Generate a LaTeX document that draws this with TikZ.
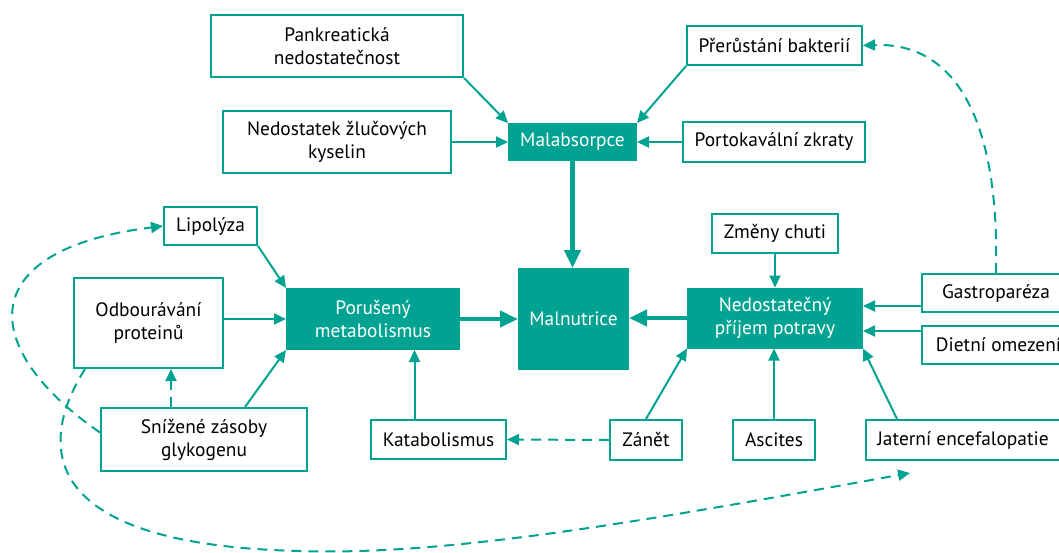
\documentclass[tikz,border=0pt]{standalone}
\usepackage{fontspec}
\setmainfont{PT Sans}
\usepackage{tikz}
\usetikzlibrary{arrows.meta}
\definecolor{mteal}{RGB}{0,163,145}

\begin{document}
\begin{tikzpicture}[x=0.5pt, y=-0.5pt,
  box/.style={
    rectangle, draw=mteal, line width=1pt, fill=white,
    align=center, inner sep=0pt,
    font=\fontsize{9.7}{11.5}\selectfont
  },
  hub/.style={box, fill=mteal, text=white},
  arr/.style={-{Triangle[length=6pt,width=5.5pt]}, line width=1pt, draw=mteal},
  harr/.style={-{Triangle[length=9pt,width=8pt]}, line width=2.2pt, draw=mteal},
  darr/.style={arr, dash pattern=on 5pt off 3.5pt}
]
  \useasboundingbox (0,0) rectangle (1059,552);

  \node[box, minimum width=126pt, minimum height=31pt] (pank) at (337,46) {Pankreatická\\nedostatečnost};
  \node[box, minimum width=114pt, minimum height=31pt] (zluc) at (337,142) {Nedostatek žlučových\\kyselin};
  \node[hub, minimum width=63.5pt, minimum height=18pt] (malab) at (572.5,142) {Malabsorpce};
  \node[box, minimum width=87.5pt, minimum height=19.5pt] (bakt) at (774.5,45.5) {Přerůstání bakterií};
  \node[box, minimum width=91pt, minimum height=20pt] (porto) at (774,142) {Portokavální zkraty};

  \node[box, minimum width=46.5pt, minimum height=19pt] (lipo) at (210.5,226) {Lipolýza};
  \node[box, minimum width=74.5pt, minimum height=45pt] (odbour) at (148.5,323) {Odbourávání\\proteinů};
  \node[hub, minimum width=86pt, minimum height=30pt] (metab) at (373,319) {Porušený\\metabolismus};
  \node[hub, minimum width=54.5pt, minimum height=50pt] (malnut) at (573.5,319) {Malnutrice};
  \node[hub, minimum width=87pt, minimum height=29.5pt] (prijem) at (775,318) {Nedostatečný\\příjem potravy};
  \node[box, minimum width=63pt, minimum height=19.5pt] (chut) at (775,233.5) {Změny chuti};
  \node[box, minimum width=74pt, minimum height=19pt] (gastro) at (996,293) {Gastroparéza};
  \node[box, minimum width=76.5pt, minimum height=19pt] (diet) at (998.5,345) {Dietní omezení};

  \node[box, minimum width=103pt, minimum height=31.5pt] (glyk) at (204,439.5) {Snížené zásoby\\glykogenu};
  \node[box, minimum width=67.5pt, minimum height=19.5pt] (katab) at (438.5,439.5) {Katabolismus};
  \node[box, minimum width=36pt, minimum height=20pt] (zanet) at (646,440) {Zánět};
  \node[box, minimum width=41pt, minimum height=20pt] (ascit) at (774,440) {Ascites};
  \node[box, minimum width=97pt, minimum height=20pt] (jater) at (963,440) {Jaterní encefalopatie};

  \coordinate (gk) at ([xshift=-16.5pt]glyk.north);
  \coordinate (kb) at ([xshift=-12pt]katab.north);
  \coordinate (g1) at ([yshift=6pt]prijem.east);
  \coordinate (d1) at ([yshift=-6.5pt]prijem.east);
  \coordinate (jend) at (910,473);

  \draw[arr] (pank.south east) -- (malab.north west);
  \draw[arr] (zluc.east) -- (malab.west);
  \draw[arr] (bakt.south west) -- (malab.north east);
  \draw[arr] (porto.west) -- (malab.east);
  \draw[harr] (malab.south) -- (malab.south |- malnut.north);

  \draw[arr] (lipo.south east) -- (metab.north west);
  \draw[arr] (odbour.east |- metab.west) -- (metab.west);
  \draw[arr] ([xshift=20.5pt]glyk.north) -- (metab.south west);
  \draw[arr] (kb) -- (kb |- metab.south);
  \draw[harr] (metab.east) -- (malnut.west);

  \draw[harr] (prijem.west) -- (prijem.west -| malnut.east);
  \draw[arr] (chut.south) -- (prijem.north);
  \draw[arr] (g1 -| gastro.west) -- (g1);
  \draw[arr] (d1 -| diet.west) -- (d1);
  \draw[arr] (zanet.north) -- (prijem.south west);
  \draw[arr] (ascit.north) -- (ascit.north |- prijem.south);
  \draw[arr] ([xshift=-33pt]jater.north) -- (prijem.south east);

  \draw[darr] (zanet.west) -- (katab.east);
  \draw[darr] (gk) -- (gk |- odbour.south);
  \draw[darr] ([yshift=3.5pt]glyk.west) .. controls (-20,350) and (-30,250) .. (lipo.west);
  \draw[darr] ([xshift=6pt]odbour.south west) .. controls (40,440) and (30,545) .. (300,551)
    .. controls (450,556) and (650,520) .. (jend);
  \draw[darr] (gastro.north) .. controls (1000,110) and (950,42) .. (bakt.east);
\end{tikzpicture}
\end{document}
